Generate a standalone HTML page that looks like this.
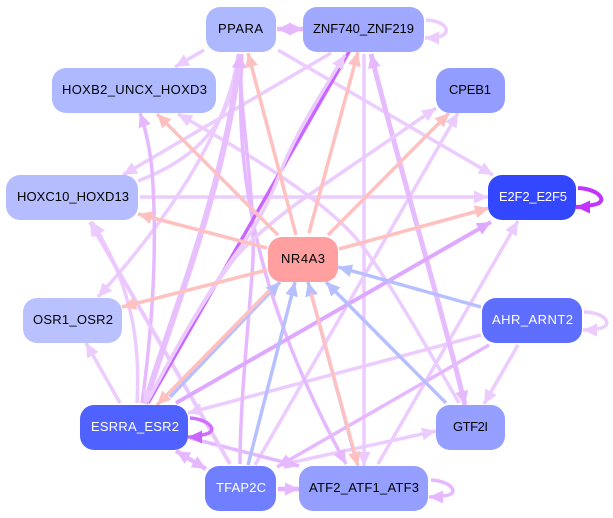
<!DOCTYPE html>
<html><head><meta charset="utf-8"><style>
html,body{margin:0;padding:0;background:#fff}
svg{display:block}
text{font-family:"Liberation Sans",sans-serif;font-size:13px;text-anchor:start;fill:#000}
.w{fill:#fff}
path{fill:none}
</style></head><body>
<svg width="613" height="518" viewBox="0 0 613 518" xmlns="http://www.w3.org/2000/svg">
<defs>
<marker id="l" markerUnits="userSpaceOnUse" markerWidth="16" markerHeight="16" refX="14" refY="6.500" orient="auto-start-reverse"><path d="M0,0L14,6.500L0,13z" style="fill:#ecccff"/></marker>
<marker id="m" markerUnits="userSpaceOnUse" markerWidth="16" markerHeight="16" refX="14" refY="6.500" orient="auto-start-reverse"><path d="M0,0L14,6.500L0,13z" style="fill:#e6b8ff"/></marker>
<marker id="d" markerUnits="userSpaceOnUse" markerWidth="16" markerHeight="16" refX="14" refY="6.500" orient="auto-start-reverse"><path d="M0,0L14,6.500L0,13z" style="fill:#dfa8ff"/></marker>
<marker id="p" markerUnits="userSpaceOnUse" markerWidth="16" markerHeight="16" refX="14" refY="6.500" orient="auto-start-reverse"><path d="M0,0L14,6.500L0,13z" style="fill:#ffc0c0"/></marker>
<marker id="b" markerUnits="userSpaceOnUse" markerWidth="16" markerHeight="16" refX="14" refY="6.500" orient="auto-start-reverse"><path d="M0,0L14,6.500L0,13z" style="fill:#b7c0ff"/></marker>
<marker id="v" markerUnits="userSpaceOnUse" markerWidth="16" markerHeight="16" refX="14" refY="6.500" orient="auto-start-reverse"><path d="M0,0L14,6.500L0,13z" style="fill:#c966ff"/></marker>
<marker id="e" markerUnits="userSpaceOnUse" markerWidth="16" markerHeight="16" refX="14" refY="6.500" orient="auto-start-reverse"><path d="M0,0L14,6.500L0,13z" style="fill:#c233ff"/></marker>
</defs>

<g stroke="#ecccff" stroke-width="3.500">
<path marker-end="url(#l)" d="M331,53L123,175"/>
<path marker-end="url(#l)" d="M204,50L175,67"/>
<path marker-end="url(#l)" d="M278,50L493,175"/>
<path marker-end="url(#l)" d="M140,197L488,197"/>
<path marker-end="url(#l)" d="M138,181C180,165 232,135 240,54"/>
<path marker-end="url(#l)" d="M238,54C232,110 190,195 98,297"/>
<path marker-end="url(#l)" d="M459,403C420,335 385,275 360,243C330,205 260,160 178,114"/>
<path marker-end="url(#l)" d="M364,54L364,466"/>
<path marker-end="url(#l)" d="M378,464L518,221"/>
<path marker-end="url(#l)" d="M255,465L458,113"/>
<path marker-end="url(#l)" d="M518,345L484,404"/>
<path marker-end="url(#l)" d="M481,335L188,413"/>
<path marker-end="url(#l)" d="M280,465L436,431"/>
<path marker-end="url(#l)" d="M120,403L86,343"/>
<path marker-end="url(#l)" d="M137,403C140,350 135,290 92,222"/>
</g>
<g stroke="#e6b8ff" stroke-width="3.500">
<path marker-end="url(#m)" d="M142,403C152,330 158,250 152,170C150,150 146,130 140,113"/>
<path marker-end="url(#m)" d="M240,464C240,400 250,310 253,260C255,190 240,120 240,54"/>
<path marker-end="url(#m)" d="M242,54C236,150 245,280 346,464"/>
<path marker-end="url(#m)" d="M489,345L277,467"/>
<path marker-end="url(#m)" d="M190,438L299,466"/>
</g>
<path stroke="#ecc8ff" stroke-width="4" marker-end="url(#l)" d="M230,464L90,222"/>
<path stroke="#e8c0ff" stroke-width="6" marker-start="url(#l)" marker-end="url(#m)" d="M145,404C170,320 225,190 240,54"/>
<path stroke="#e6bcff" stroke-width="5" marker-start="url(#m)" marker-end="url(#m)" d="M465,405C445,320 400,170 371,54"/>
<path stroke="#dfa8ff" stroke-width="4" marker-end="url(#d)" d="M176,403L491,222"/>
<path stroke="#c966ff" stroke-width="3.500" d="M148,403L350,50"/>
<g stroke="#ecccff" stroke-width="3.500">
<path marker-end="url(#l)" d="M147,402C165,370 195,310 235,255C255,228 268,205 280,173C295,135 320,95 345,55"/>
<path marker-end="url(#l)" d="M147,402C165,370 195,310 235,258C250,240 280,215 306,197L436,108"/>
</g>

<g stroke="#b7c0ff" stroke-width="3.500">
<path marker-end="url(#b)" d="M481,307L338,267"/>
<path marker-end="url(#b)" d="M446,403L326,282"/>
<path marker-end="url(#b)" d="M248,465L295,282"/>
<path marker-end="url(#b)" d="M170,397L280,282"/>
<path marker-end="url(#b)" d="M356,460L308,282"/>
</g>
<g stroke="#ffc0c0" stroke-width="3.500">
<path marker-end="url(#p)" d="M296,235L248,53"/>
<path marker-end="url(#p)" d="M309,233L358,52"/>
<path marker-end="url(#p)" d="M328,235L449,113"/>
<path marker-end="url(#p)" d="M339,249L489,208"/>
<path marker-end="url(#p)" d="M278,235L157,114"/>
<path marker-end="url(#p)" d="M267,248L138,214"/>
<path marker-end="url(#p)" d="M267,270L122,307"/>
<path marker-end="url(#p)" d="M270,290L157,405"/>
<path marker-end="url(#p)" d="M311,293L358,466"/>
</g>

<path stroke="#e6b8ff" stroke-width="4.500" marker-start="url(#m)" marker-end="url(#m)" d="M277,29L303,29"/>
<path stroke="#e6b8ff" stroke-width="4.500" marker-start="url(#m)" marker-end="url(#m)" d="M176,451L206,469"/>
<path stroke="#e6b0ff" stroke-width="4.500" marker-end="url(#m)" d="M278,489L299,489"/>

<path stroke="#ecccff" stroke-width="3.500" marker-end="url(#l)" d="M426,20C448,21 452,34 438,37Q432,38 425,38"/>
<path stroke="#c233ff" stroke-width="4" marker-end="url(#e)" d="M578,188C600,189 610,203 592,205Q585,207 576,207"/>
<path stroke="#ecccff" stroke-width="3.500" marker-end="url(#l)" d="M584,312C606,312 616,327 596,329Q590,330 583,330"/>
<path stroke="#e6b8ff" stroke-width="3.500" marker-end="url(#m)" d="M431,480C452,481 462,495 442,496Q436,497 429,497"/>
<path stroke="#cf70ff" stroke-width="3.500" marker-end="url(#v)" d="M190,418C208,419 222,432 202,435Q195,437 188,437"/>

<g>
<rect x="206" y="7" width="70" height="45" rx="14" fill="#aeb8ff"/>
<rect x="303" y="7" width="121" height="45" rx="14" fill="#a0a9ff"/>
<rect x="52" y="68" width="164" height="45" rx="14" fill="#afb9ff"/>
<rect x="436" y="68" width="69" height="45" rx="14" fill="#929dff"/>
<rect x="6" y="175" width="132" height="45" rx="14" fill="#b5bdff"/>
<rect x="488" y="175" width="88" height="45" rx="14" fill="#3347ff"/>
<rect x="268" y="237" width="70" height="45" rx="14" fill="#ff9f9f"/>
<rect x="23" y="298" width="99" height="45" rx="14" fill="#b9c1ff"/>
<rect x="482" y="298" width="100" height="45" rx="14" fill="#5e6fff"/>
<rect x="80" y="405" width="108" height="45" rx="14" fill="#4f62ff"/>
<rect x="436" y="405" width="69" height="45" rx="14" fill="#949fff"/>
<rect x="205" y="466" width="71" height="45" rx="14" fill="#707fff"/>
<rect x="299" y="466" width="129" height="45" rx="14" fill="#949fff"/>
</g>

<text x="218" y="33" textLength="45">PPARA</text>
<text x="313" y="33" textLength="101">ZNF740_ZNF219</text>
<text x="62" y="94" textLength="145">HOXB2_UNCX_HOXD3</text>
<text x="449" y="94" textLength="42">CPEB1</text>
<text x="17" y="201" textLength="112">HOXC10_HOXD13</text>
<text class="w" x="499" y="201" textLength="68">E2F2_E2F5</text>
<text x="281" y="263" textLength="44">NR4A3</text>
<text x="33" y="324" textLength="80">OSR1_OSR2</text>
<text class="w" x="492" y="324" textLength="81">AHR_ARNT2</text>
<text class="w" x="91" y="431" textLength="88">ESRRA_ESR2</text>
<text x="453" y="431" textLength="35">GTF2I</text>
<text class="w" x="216" y="492" textLength="50">TFAP2C</text>
<text x="309" y="492" textLength="110">ATF2_ATF1_ATF3</text>
</svg>
</body></html>
